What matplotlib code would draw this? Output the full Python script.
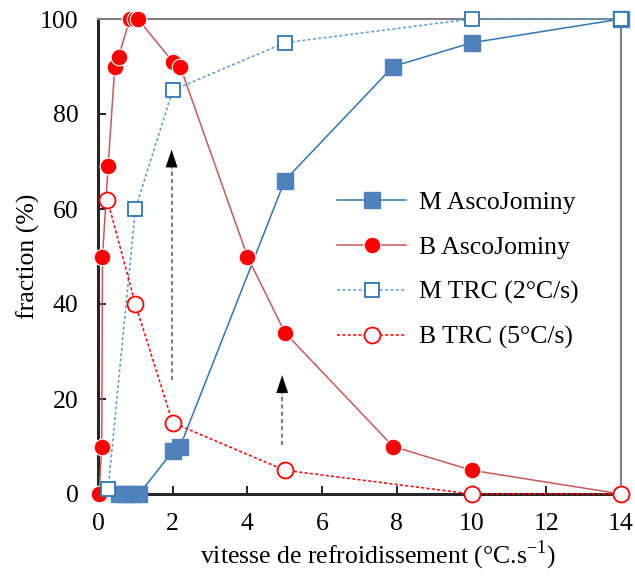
import matplotlib
matplotlib.use("Agg")
import matplotlib.pyplot as plt

plt.rcParams['font.family'] = ['Liberation Serif', 'DejaVu Serif']

# Data
m_asco_x = [0.55, 0.75, 0.95, 1.1, 2.0, 2.2, 5.0, 7.9, 10.0, 14.0]
m_asco_y = [0, 0, 0, 0, 9, 10, 66, 90, 95, 100]

b_asco_x = [0.03, 0.1, 0.12, 0.27, 0.45, 0.55, 0.85, 1.0, 1.07, 2.0, 2.2, 4.0, 5.0, 7.9, 10.0, 14.0]
b_asco_y = [0, 10, 50, 69, 90, 92, 100, 100, 100, 91, 90, 50, 34, 10, 5, 0]

m_trc_x = [0.27, 1.0, 2.0, 5.0, 10.0, 14.0]
m_trc_y = [1, 60, 85, 95, 100, 100]

b_trc_x = [0.25, 1.0, 2.0, 5.0, 10.0, 14.0]
b_trc_y = [62, 40, 15, 5, 0, 0]

labels = ["M AscoJominy", "B AscoJominy", "M TRC (2°C/s)", "B TRC (5°C/s)"]

x_ticks = [0, 2, 4, 6, 8, 10, 12, 14]
y_ticks = [0, 20, 40, 60, 80, 100]

FS = 18.5

fig = plt.figure(figsize=(6.35, 5.79), dpi=100)
ax = fig.add_axes([98/635, 1-494/579, (621-98)/635, (494-19)/579])

ax.plot(m_asco_x, m_asco_y, '-', color='#2E75B6', lw=1.1, marker='s', ms=11,
        mfc='#4F81BD', mec='#4F81BD', label=labels[0], clip_on=False, zorder=3)
ax.plot(b_asco_x, b_asco_y, '-', color='#C85A5A', lw=1.1, marker='o', ms=12,
        mfc='#FF0000', mec='white', mew=0.8, label=labels[1], clip_on=False, zorder=3)
ax.plot(m_trc_x, m_trc_y, linestyle=(0, (2, 1.5)), color='#5B9BD5', lw=1.1, marker='s', ms=10.5,
        mfc='white', mec='#2E75B6', mew=1.3, label=labels[2], clip_on=False, zorder=4)
ax.plot(b_trc_x, b_trc_y, linestyle=(0, (2, 1.5)), color='#FF0000', lw=1.1, marker='o', ms=11.5,
        mfc='white', mec='#FF0000', mew=1.3, label=labels[3], clip_on=False, zorder=4)

# Arrows
for (xa, y0, y1) in [(1.97, 24, 72.5), (4.93, 10.3, 25)]:
    ax.plot([xa, xa], [y0, y1 - 2], linestyle=(0, (2, 1.5)), color='#7F7F7F', lw=1.5, zorder=2)
    ax.annotate('', xy=(xa, y1), xytext=(xa, y1 - 5),
                arrowprops=dict(arrowstyle='-|>,head_length=0.9,head_width=0.3',
                                mutation_scale=14, color='black', lw=0.1,
                                shrinkA=0, shrinkB=0), zorder=2)

ax.set_xlim(0, 14)
ax.set_ylim(0, 100)
ax.set_xticks(x_ticks)
ax.set_yticks(y_ticks)
ax.tick_params(direction='in', length=6, width=1.2, labelsize=FS, colors='black')
ax.tick_params(axis='y', pad=14)
ax.tick_params(axis='x', pad=14)

for s in ['left', 'bottom']:
    ax.spines[s].set_color('#262626')
    ax.spines[s].set_linewidth(2.2)
for s in ['top', 'right']:
    ax.spines[s].set_color('#808080')
    ax.spines[s].set_linewidth(1.5)

ax.set_xlabel('vitesse de refroidissement (°C.s$^{\\mathregular{-1}}$)', fontsize=FS)
ax.xaxis.set_label_coords((378-98)/523, -(539-494)/475, transform=ax.transAxes)
ax.set_ylabel('fraction (%)', fontsize=FS, labelpad=0)

leg = ax.legend(loc='upper left', bbox_to_anchor=((337-98)/523, 1-(191-19)/475), frameon=False,
                fontsize=FS, handlelength=2.7, labelspacing=0.85, handletextpad=0.5,
                borderpad=0, borderaxespad=0)

fig.savefig('out.png', dpi=100)
